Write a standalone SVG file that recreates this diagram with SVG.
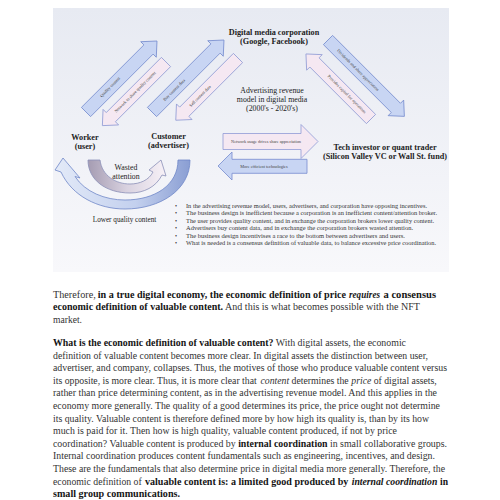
<svg xmlns="http://www.w3.org/2000/svg" width="500" height="500" viewBox="0 0 500 500">
<defs>
<linearGradient id="bg" x1="0" y1="0" x2="0" y2="1"><stop offset="0" stop-color="#e7eaf2"/><stop offset="1" stop-color="#f8f8fb"/></linearGradient>
<linearGradient id="bigG" gradientUnits="userSpaceOnUse" x1="55" y1="0" x2="190" y2="0"><stop offset="0" stop-color="#e3eaf8"/><stop offset="0.6" stop-color="#c3d0ee"/><stop offset="1" stop-color="#8a9ed3"/></linearGradient>
<linearGradient id="smallG" gradientUnits="userSpaceOnUse" x1="88" y1="0" x2="166" y2="0"><stop offset="0" stop-color="#a59cb2"/><stop offset="0.5" stop-color="#d9d2e0"/><stop offset="1" stop-color="#f7f1f7"/></linearGradient>
<style>
text{font-family:"Liberation Serif",serif;fill:#222}
.h{font-weight:bold;font-size:8.2px;text-anchor:middle}
.m{font-size:7.8px;text-anchor:middle}
.blue{fill:#c8d5f3;stroke:#768ccf;stroke-width:0.8}
.pink{fill:#f5e8f2;stroke:#8f9bd5;stroke-width:0.8}
.at{font-size:4.3px;text-anchor:middle;dominant-baseline:central;fill:#444}
.bl{font-size:5.8px;fill:#333}
.p{font-size:10.2px;fill:#333}
.q{font-size:9.75px;fill:#333}
.b{font-weight:bold;fill:#151515}
.i{font-style:italic}
</style>
</defs>
<rect x="53" y="8" width="396" height="264" fill="url(#bg)"/>

<g id="connectors">
<g id="arrow-quality-content"><polygon class="blue" points="0,-6.5 88.4,-6.5 88.4,-11 100.4,0 88.4,11 88.4,6.5 0,6.5" transform="translate(86,112) rotate(-45)"/><text class="at" transform="translate(110,87) rotate(-45)">Quality content</text></g>
<g id="arrow-network-share"><polygon class="pink" points="0,-6.5 78,-6.5 78,-11 90,0 78,11 78,6.5 0,6.5" transform="translate(166,62) rotate(135)"/><text class="at" transform="translate(135,92) rotate(-45)">Network to share quality content</text></g>
<g id="arrow-buy-data"><polygon class="blue" points="0,-6.5 89.8,-6.5 89.8,-11 101.8,0 89.8,11 89.8,6.5 0,6.5" transform="translate(152,112) rotate(-45)"/><text class="at" transform="translate(174,90) rotate(-45)">Buy content data</text></g>
<g id="arrow-sell-data"><polygon class="pink" points="0,-6.5 76,-6.5 76,-11 88,0 76,11 76,6.5 0,6.5" transform="translate(238,58) rotate(135)"/><text class="at" transform="translate(200,96) rotate(-45)">Sell content data</text></g>
<g id="arrow-dividends"><polygon class="blue" points="0,-6.5 96,-6.5 96,-11 108,0 96,11 96,6.5 0,6.5" transform="translate(328,40) rotate(45)"/><text class="at" transform="translate(358,70) rotate(45)">Dividends and share appreciation</text></g>
<g id="arrow-capital"><polygon class="pink" points="0,-6.5 80,-6.5 80,-11 92,0 80,11 80,6.5 0,6.5" transform="translate(371,119) rotate(-135)"/><text class="at" transform="translate(347,94) rotate(45)">Provides capital for operations</text></g>
<g id="arrow-network-usage"><polygon class="pink" points="223,133.5 301,133.5 301,124.5 318,141.5 301,158.5 301,149.5 223,149.5"/><text class="at" x="266" y="141.5">Network usage drives share appreciation</text></g>
<g id="arrow-efficient"><polygon class="blue" points="307,159.3 232,159.3 232,152 218,166 232,180 232,173.3 307,173.3"/><text class="at" x="264" y="166.3">More efficient technologies</text></g>
<g id="arrow-lower-quality"><path d="M190,160 C190,190 160,209 125,209 C98,209 72,196 61,172 L55,170 L63,158 L80,178 L75,176.5 C85,192 105,200 125,200 C155,200 178,185 178,160 Z" fill="url(#bigG)" stroke="#6f86c8" stroke-width="0.8"/></g>
<g id="arrow-wasted"><path d="M88,160 L100,160 C102,176 116,184 130,184 C140,184 149,180 153,172 L149,170 L161,160 L166,176 L162,175 C156,187 144,193 130,193 C106,193 88,180 88,160 Z" fill="url(#smallG)" stroke="#8a8fb8" stroke-width="0.8"/></g>
</g>

<g id="node-corporation"><text class="h" x="274" y="35">Digital media corporation</text><text class="h" x="274" y="43.5">(Google, Facebook)</text></g>
<g id="node-model"><text class="m" x="272" y="92.5">Advertising revenue</text><text class="m" x="272" y="101.5">model in digital media</text><text class="m" x="272" y="110.5">(2000's - 2020's)</text></g>
<g id="node-worker"><text class="h" x="85" y="139.5">Worker</text><text class="h" x="85" y="148.5">(user)</text></g>
<g id="node-customer"><text class="h" x="168.5" y="139">Customer</text><text class="h" x="168.5" y="148">(advertiser)</text></g>
<g id="node-investor"><text class="h" x="385" y="149.5">Tech investor or quant trader</text><text class="h" x="385" y="158.5">(Silicon Valley VC or Wall St. fund)</text></g>
<g id="label-wasted"><text class="m" x="126" y="170">Wasted</text><text class="m" x="126" y="178.5">attention</text></g>
<g id="label-lower"><text class="m" x="124.5" y="222" style="font-size:7.2px">Lower quality content</text></g>

<g id="bullets">
<text class="bl" x="175" y="208">•</text><text class="bl" x="186" y="208" textLength="241" lengthAdjust="spacingAndGlyphs">In the advertising revenue model, users, advertisers, and corporation have opposing incentives.</text>
<text class="bl" x="175" y="215.4">•</text><text class="bl" x="186" y="215.4" textLength="251" lengthAdjust="spacingAndGlyphs">The business design is inefficient because a corporation is an inefficient content/attention broker.</text>
<text class="bl" x="175" y="222.8">•</text><text class="bl" x="186" y="222.8" textLength="248" lengthAdjust="spacingAndGlyphs">The user provides quality content, and in exchange the corporation brokers lower quality content.</text>
<text class="bl" x="175" y="230.2">•</text><text class="bl" x="186" y="230.2" textLength="227" lengthAdjust="spacingAndGlyphs">Advertisers buy content data, and in exchange the corporation brokers wasted attention.</text>
<text class="bl" x="175" y="237.6">•</text><text class="bl" x="186" y="237.6" textLength="219" lengthAdjust="spacingAndGlyphs">The business design incentivises a race to the bottom between advertisers and users.</text>
<text class="bl" x="175" y="245">•</text><text class="bl" x="186" y="245" textLength="250" lengthAdjust="spacingAndGlyphs">What is needed is a consensus definition of  valuable data, to balance excessive price coordination.</text>
</g>

<g id="body">
<text class="p" x="53" y="297.8">Therefore,</text>
<text class="p b" x="97.8" y="297.8" textLength="248.2" lengthAdjust="spacingAndGlyphs">in a true digital economy, the economic definition of price</text>
<text class="p b i" x="349" y="297.8" textLength="31" lengthAdjust="spacingAndGlyphs">requires</text>
<text class="p b" x="383.5" y="297.8" textLength="52.5" lengthAdjust="spacingAndGlyphs">a consensus</text>
<text class="p" x="53" y="310.3" textLength="367" lengthAdjust="spacingAndGlyphs"><tspan class="b">economic definition of valuable content.</tspan> And this is what becomes possible with the NFT</text>
<text class="p" x="53" y="322.8" textLength="29" lengthAdjust="spacingAndGlyphs">market.</text>

<text class="p" x="53" y="345.9" textLength="353" lengthAdjust="spacingAndGlyphs"><tspan class="b">What is the economic definition of valuable content?</tspan> With digital assets, the economic</text>
<text class="p" x="53" y="358.5" textLength="375" lengthAdjust="spacingAndGlyphs">definition of valuable content becomes more clear. In digital assets the distinction between user,</text>
<text class="p" x="53" y="371.1" textLength="394" lengthAdjust="spacingAndGlyphs">advertiser, and company, collapses. Thus, the motives of those who produce valuable content versus</text>
<text class="q" x="53" y="383.7">its opposite, is more clear. Thus, it is more clear that</text>
<text class="q i" x="260.5" y="383.7">content</text>
<text class="q" x="291.5" y="383.7">determines the</text>
<text class="q i" x="351.3" y="383.7">price</text>
<text class="q" x="373.7" y="383.7">of digital assets,</text>
<text class="p" x="53" y="396.3" textLength="384" lengthAdjust="spacingAndGlyphs">rather than price determining content, as in the advertising revenue model. And this applies in the</text>
<text class="p" x="53" y="408.9" textLength="387" lengthAdjust="spacingAndGlyphs">economy more generally. The quality of a good determines its price, the price ought not determine</text>
<text class="p" x="53" y="421.5" textLength="376" lengthAdjust="spacingAndGlyphs">its quality. Valuable content is therefore defined more by how high its quality is, than by its how</text>
<text class="p" x="53" y="434.1" textLength="344" lengthAdjust="spacingAndGlyphs">much is paid for it. Then how is high quality, valuable content produced, if not by price</text>
<text class="p" x="53" y="446.7" textLength="394" lengthAdjust="spacingAndGlyphs">coordination? Valuable content is produced by <tspan class="b">internal coordination</tspan> in small collaborative groups.</text>
<text class="p" x="53" y="459.3" textLength="382" lengthAdjust="spacingAndGlyphs">Internal coordination produces content fundamentals such as engineering, incentives, and design.</text>
<text class="p" x="53" y="471.9" textLength="392" lengthAdjust="spacingAndGlyphs">These are the fundamentals that also determine price in digital media more generally. Therefore, the</text>
<text class="p" x="53" y="484.5" textLength="88.7" lengthAdjust="spacingAndGlyphs">economic definition of</text>
<text class="p b" x="145" y="484.5" textLength="203.3" lengthAdjust="spacingAndGlyphs">valuable content is: a limited good produced by</text>
<text class="p b i" x="351.7" y="484.5" textLength="85.6" lengthAdjust="spacingAndGlyphs">internal coordination</text>
<text class="p b" x="440" y="484.5" textLength="8" lengthAdjust="spacingAndGlyphs">in</text>
<text class="p b" x="53" y="497.1" textLength="127" lengthAdjust="spacingAndGlyphs">small group communications.</text>
</g>
</svg>
